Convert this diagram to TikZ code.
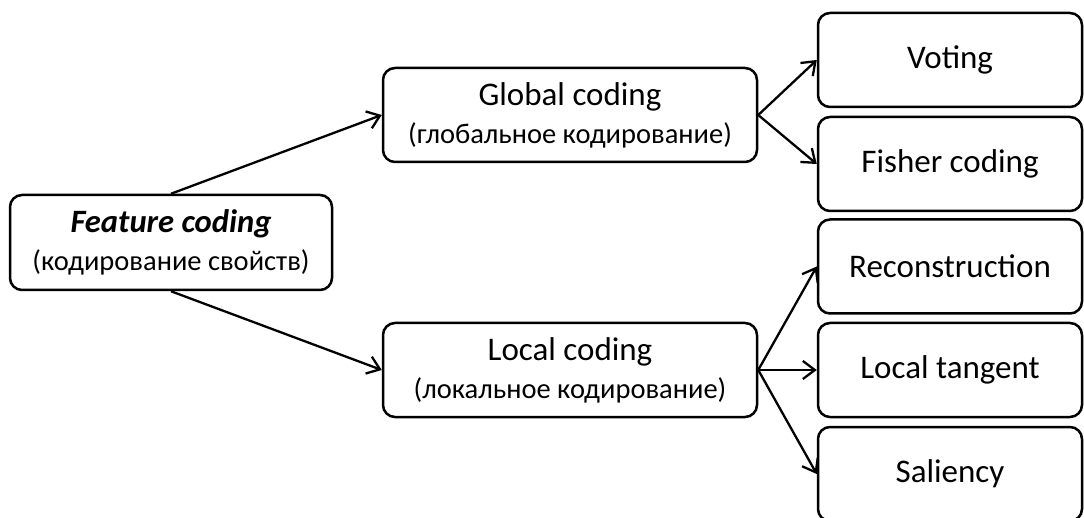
\documentclass[tikz,border=0pt]{standalone}
\usepackage{fontspec}
\setmainfont{Carlito}
\usetikzlibrary{arrows.meta}
\begin{document}
\begin{tikzpicture}[x=1pt,y=-1pt,
  box/.style={draw=black,line width=2.5pt,rounded corners=12pt,fill=white,inner sep=0pt,align=center},
  two/.style={box,font=\fontsize{28.5}{38}\selectfont},
  leaf/.style={box,minimum width=264pt,minimum height=94pt,font=\fontsize{33}{38}\selectfont},
  conn/.style={line width=2.3pt,-{Straight Barb[length=12pt,width=18pt,line width=2.3pt]}}]
\useasboundingbox (0,0) rectangle (1084,518);
\clip (0,0) rectangle (1084,518);
\node[two,minimum width=322pt,minimum height=95pt] (feat) at (171,242.5)
  {{\fontsize{32.6}{38}\selectfont\bfseries\itshape Feature coding}\\(кодирование свойств)};
\node[two,minimum width=374pt,minimum height=94pt] (glob) at (570,115)
  {{\fontsize{33}{38}\selectfont Global coding}\\(глобальное кодирование)};
\node[two,minimum width=374pt,minimum height=94pt] (loc) at (570,370)
  {{\fontsize{33}{38}\selectfont Local coding}\\(локальное кодирование)};
\node[leaf] (vot) at (950,60) {Voting};
\node[leaf] (fis) at (950,164) {Fisher coding};
\node[leaf] (rec) at (950,266.5) {Reconstruction};
\node[leaf] (tan) at (950,370) {Local tangent};
\node[leaf] (sal) at (950,474) {Saliency};
\draw[conn] (feat.north) -- (glob.west);
\draw[conn] (feat.south) -- (loc.west);
\draw[conn] (glob.east) -- (vot.west);
\draw[conn] (glob.east) -- (fis.west);
\draw[conn] (loc.east) -- (rec.west);
\draw[conn] (loc.east) -- (tan.west);
\draw[conn] (loc.east) -- (sal.west);
\end{tikzpicture}
\end{document}
